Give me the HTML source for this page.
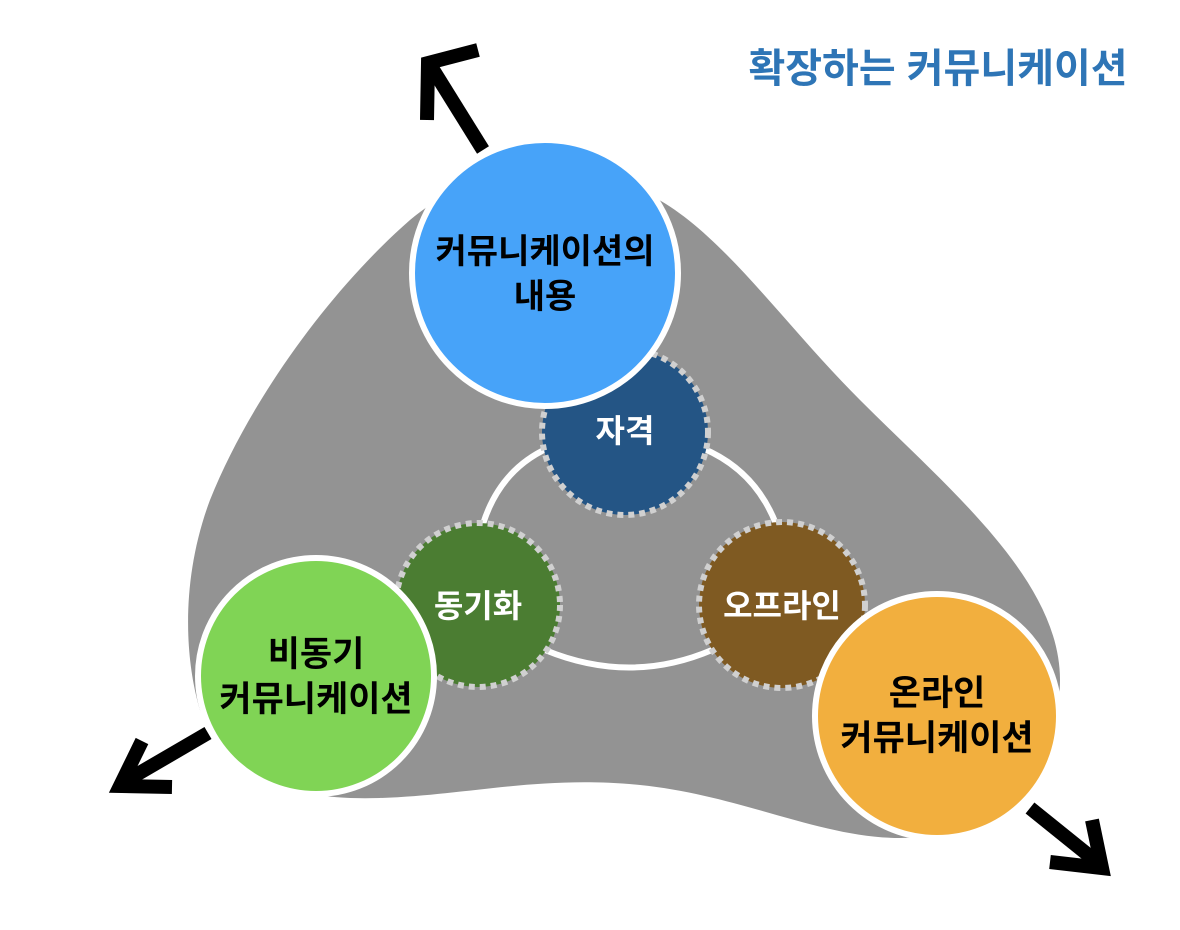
<!DOCTYPE html>
<html><head><meta charset="utf-8"><style>
html,body{margin:0;padding:0;background:#fff;}
svg{display:block;}
text{font-family:"Liberation Sans","Noto Sans CJK KR",sans-serif;font-weight:bold;text-anchor:middle;}
</style></head><body>
<svg width="1180" height="930" viewBox="0 0 1180 930" xmlns="http://www.w3.org/2000/svg">
<path d="M410,220 C330,290 250,400 210,500 C180,580 185,660 200,710 C230,790 310,800 380,798 C470,795 540,775 640,785 C740,795 820,838 900,838 C1000,838 1060,760 1060,680 C1060,580 950,490 860,400 C780,320 720,230 650,195 C560,150 470,170 410,220 Z" fill="#939393"/>
<g fill="none" stroke="#fff" stroke-width="6">
<path d="M483,524 Q500,470 548,448"/>
<path d="M702,448 Q755,470 776,524"/>
<path d="M545,650 Q630,685 712,650"/>
</g>
<g stroke="#d0d0d0" stroke-width="6" stroke-dasharray="6 5">
<circle cx="625" cy="432" r="83" fill="#245585"/>
<circle cx="478" cy="605" r="82" fill="#4b7d32"/>
<circle cx="782" cy="605" r="83" fill="#7f5a22"/>
</g>
<text x="625" y="442" font-size="32" fill="#fff">자격</text>
<text x="478" y="617" font-size="32" fill="#fff">동기화</text>
<text x="782" y="617" font-size="32" fill="#fff">오프라인</text>
<g stroke="#fff" stroke-width="6">
<circle cx="545" cy="273" r="133" fill="#47a3f9"/>
<circle cx="316" cy="676" r="118" fill="#80d455"/>
<circle cx="937" cy="716" r="122" fill="#f2af3e"/>
</g>
<text x="545" y="263" font-size="34" fill="#000">커뮤니케이션의</text>
<text x="545" y="308" font-size="34" fill="#000">내용</text>
<text x="316" y="666" font-size="35" fill="#000">비동기</text>
<text x="316" y="711" font-size="35" fill="#000">커뮤니케이션</text>
<text x="937" y="705" font-size="35" fill="#000">온라인</text>
<text x="937" y="750" font-size="35" fill="#000">커뮤니케이션</text>
<g fill="none" stroke="#000" stroke-width="14" stroke-linejoin="round">
<line x1="483" y1="150" x2="432" y2="68"/>
<polyline points="427,120 428,63 478,50" stroke-linejoin="miter"/>
<line x1="208" y1="733" x2="124" y2="782"/>
<polyline points="142,741 120,786 172,787" stroke-linejoin="miter"/>
<line x1="1030" y1="808" x2="1097" y2="862"/>
<polyline points="1092,820 1102,868 1050,862" stroke-linejoin="miter"/>
</g>
<text x="938" y="82" font-size="40" fill="#2e75b6">확장하는 커뮤니케이션</text>
</svg>
</body></html>
